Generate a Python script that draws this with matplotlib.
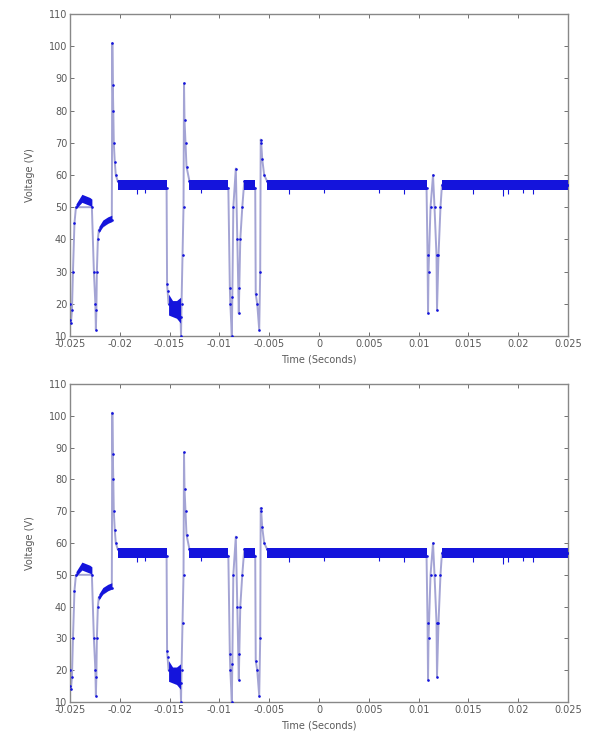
import numpy as np
import matplotlib
matplotlib.use("Agg")
import matplotlib.pyplot as plt

# trace through the transitions (time in s, voltage in V)
trace_t = [-0.0250, -0.02495, -0.0249, -0.0248, -0.0247, -0.02455, -0.0244,
           -0.0228, -0.0226, -0.02245, -0.0224, -0.02235, -0.0223, -0.0222, -0.0221,
           -0.0208, -0.02075, -0.0207, -0.02065, -0.0206, -0.0205, -0.0204, -0.0202,
           -0.0153, -0.01525, -0.0152, -0.0151,
           -0.0139, -0.01385, -0.0138, -0.0137, -0.0136, -0.01355, -0.0135, -0.0134, -0.0133, -0.0130,
           -0.0091, -0.00895, -0.0089, -0.00875, -0.0087, -0.0086, -0.00835, -0.0082, -0.00805,
           -0.0080, -0.0079, -0.0077, -0.0075,
           -0.0064, -0.00635, -0.0062, -0.0060, -0.0059, -0.00585, -0.0058, -0.0057, -0.0055, -0.0052,
           0.0108, 0.0109, 0.01095, 0.0110, 0.0112, 0.01145, 0.0116, 0.0118, 0.01185,
           0.0120, 0.0122, 0.01235, 0.0250]
trace_v = [15, 20, 14, 18, 30, 45, 50,
           50, 30, 20, 12, 18, 30, 40, 43,
           46, 101, 88, 80, 70, 64, 60, 58,
           56, 26, 24, 20,
           16, 10, 20, 35, 50, 88.5, 77, 70, 62.6, 58,
           56, 25, 20, 10, 22, 50, 62, 40, 17,
           25, 40, 50, 58,
           56, 23, 20, 12, 30, 71, 70, 65, 60, 58,
           56, 35, 17, 30, 50, 60, 50, 35, 18,
           35, 50, 57, 57]

# noisy bands (time, lower, upper)
band1_t = [-0.0244, -0.0241, -0.0238, -0.0234, -0.0230, -0.0228]
band1_lo = [49.5, 50.5, 51.5, 51, 50.5, 50]
band1_hi = [51, 52.5, 54, 53.5, 53, 52.5]
band2_t = [-0.0221, -0.0217, -0.0212, -0.0208]
band2_lo = [42, 44, 45, 45.5]
band2_hi = [44, 46, 47, 47.5]
band3_t = [-0.0151, -0.0147, -0.0143, -0.0139]
band3_lo = [16.5, 16, 15.5, 14]
band3_hi = [23, 21, 21, 22]
steady_t0 = [-0.0202, -0.0130, -0.0075, -0.0052, 0.01235]
steady_t1 = [-0.0153, -0.0091, -0.0064, 0.0108, 0.0250]
steady_lo = [55.2, 55.2, 55.2, 55.2, 55.2]
steady_hi = [58.3, 58.3, 58.3, 58.3, 58.3]

# short downward glitches on the 57 V level
glitch_t = [-0.0183, -0.0175, -0.0118, -0.0030, 0.0005, 0.0060, 0.0085,
            0.0155, 0.0185, 0.0190, 0.0205, 0.0215]
glitch_v = [54, 54.5, 54.5, 54, 54.5, 54.5, 54, 54, 53.5, 54, 54.5, 54]

xticks = [-0.025, -0.02, -0.015, -0.01, -0.005, 0, 0.005, 0.01, 0.015, 0.02, 0.025]
xtick_labels = ["-0.025", "-0.02", "-0.015", "-0.01", "-0.005", "0",
                "0.005", "0.01", "0.015", "0.02", "0.025"]
yticks = list(range(10, 111, 10))

blue = "#1414dc"
light = "#a4a4d4"
grey = "#5a5a5a"


def draw(ax):
    ax.plot(trace_t, trace_v, color=light, lw=1.4, zorder=2)
    ax.plot(trace_t, trace_v, ".", color=blue, ms=1.8, zorder=3)
    for t, lo, hi in [(band1_t, band1_lo, band1_hi), (band2_t, band2_lo, band2_hi),
                      (band3_t, band3_lo, band3_hi)]:
        ax.fill_between(t, lo, hi, color=blue, lw=0, zorder=3)
    for t0, t1, lo, hi in zip(steady_t0, steady_t1, steady_lo, steady_hi):
        ax.fill_between([t0, t1], [lo, lo], [hi, hi], color=blue, lw=0, zorder=3)
    ax.vlines(glitch_t, 56, glitch_v, color=blue, lw=0.8, zorder=3)

    ax.set_xlim(-0.025, 0.025)
    ax.set_ylim(10, 110)
    ax.set_xticks(xticks)
    ax.set_xticklabels(xtick_labels)
    ax.set_yticks(yticks)
    ax.tick_params(direction="in", top=True, right=True, length=3, width=0.6,
                   colors=grey, labelsize=7, pad=2)
    for s in ax.spines.values():
        s.set_color("#888888")
        s.set_linewidth(1.0)
    ax.set_xlabel("Time (Seconds)", fontsize=7, color=grey, labelpad=4)
    ax.set_ylabel("Voltage (V)", fontsize=7, color=grey, labelpad=10)


fig = plt.figure(figsize=(5.89, 7.36), dpi=100)
ax1 = fig.add_axes([0.1188, 0.5435, 0.8455, 0.4375])
ax2 = fig.add_axes([0.1188, 0.0462, 0.8455, 0.432])
draw(ax1)
draw(ax2)

fig.savefig("out.png", dpi=100)
